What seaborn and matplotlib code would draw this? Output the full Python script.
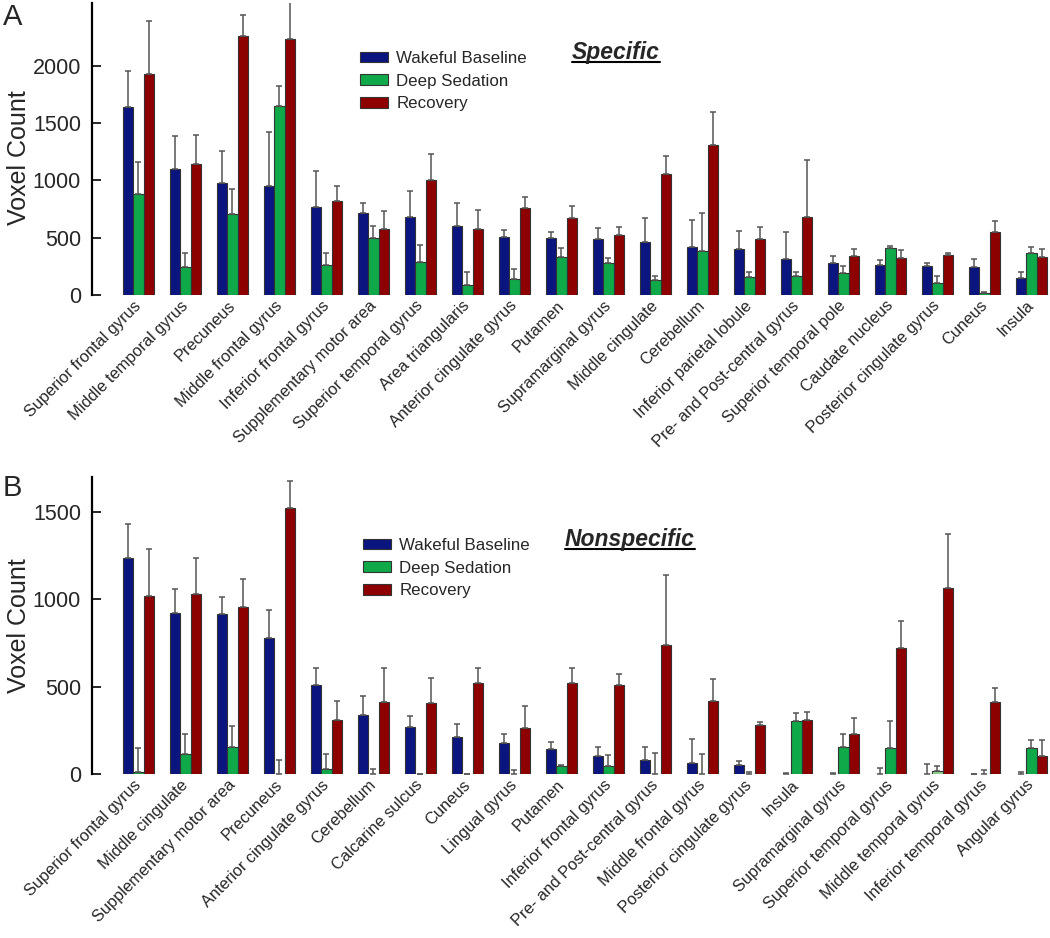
import numpy as np
import pandas as pd
import seaborn as sns
import matplotlib.pyplot as plt
from matplotlib.lines import Line2D
from matplotlib.patches import Patch

conditions = ['Wakeful Baseline', 'Deep Sedation', 'Recovery']
colors = ['#0b1580', '#10a94a', '#8e0000']

# panel A - specific
regions_a = ['Superior frontal gyrus', 'Middle temporal gyrus', 'Precuneus', 'Middle frontal gyrus',
             'Inferior frontal gyrus', 'Supplementary motor area', 'Superior temporal gyrus',
             'Area triangularis', 'Anterior cingulate gyrus', 'Putamen', 'Supramarginal gyrus',
             'Middle cingulate', 'Cerebellum', 'Inferior parietal lobule', 'Pre- and Post-central gyrus',
             'Superior temporal pole', 'Caudate nucleus', 'Posterior cingulate gyrus', 'Cuneus', 'Insula']
wake_a = [1645, 1103, 978, 952, 771, 719, 678, 605, 504, 495, 489, 460, 422, 405, 311, 282, 259, 253, 247, 146]
wake_a_err = [314, 288, 282, 471, 315, 84, 233, 198, 64, 52, 93, 215, 233, 151, 242, 56, 47, 24, 64, 52]
sed_a = [879, 247, 710, 1651, 262, 498, 288, 87, 140, 329, 277, 128, 384, 157, 163, 195, 408, 108, 15, 370]
sed_a_err = [285, 120, 219, 174, 108, 107, 152, 117, 84, 79, 43, 35, 329, 47, 41, 61, 20, 55, 14, 49]
rec_a = [1930, 1141, 2265, 2239, 818, 576, 1004, 576, 763, 670, 521, 1057, 1310, 492, 678, 341, 320, 352, 550, 332]
rec_a_err = [463, 256, 180, 360, 134, 160, 224, 166, 96, 110, 76, 154, 285, 102, 501, 58, 70, 12, 93, 67]

# panel B - nonspecific
regions_b = ['Superior frontal gyrus', 'Middle cingulate', 'Supplementary motor area', 'Precuneus',
             'Anterior cingulate gyrus', 'Cerebellum', 'Calcarine sulcus', 'Cuneus', 'Lingual gyrus',
             'Putamen', 'Inferior frontal gyrus', 'Pre- and Post-central gyrus', 'Middle frontal gyrus',
             'Posterior cingulate gyrus', 'Insula', 'Supramarginal gyrus', 'Superior temporal gyrus',
             'Middle temporal gyrus', 'Inferior temporal gyrus', 'Angular gyrus']
wake_b = [1239, 923, 914, 780, 510, 337, 272, 213, 181, 143, 103, 80, 67, 51, 0, 4, 0, 0, 2, 0]
wake_b_err = [194, 139, 97, 158, 99, 112, 63, 76, 49, 44, 55, 74, 137, 23, 10, 2, 34, 61, 1, 15]
sed_b = [11, 116, 154, 0, 29, 0, 0, 0, 0, 48, 48, 0, 0, 0, 305, 156, 148, 19, 0, 152]
sed_b_err = [137, 112, 124, 80, 89, 32, 0, 0, 23, 7, 62, 122, 116, 13, 43, 76, 158, 29, 27, 44]
rec_b = [1017, 1030, 959, 1521, 310, 413, 407, 523, 263, 523, 508, 740, 419, 284, 312, 232, 723, 1066, 415, 107]
rec_b_err = [274, 204, 155, 154, 107, 196, 145, 86, 129, 82, 67, 398, 127, 15, 42, 92, 155, 310, 80, 87]

sns.set_style('white')
plt.rcParams['font.family'] = ['Liberation Sans', 'DejaVu Sans']

W, H = 1050, 938
fig = plt.figure(figsize=(W / 100, H / 100), dpi=100)


def make_df(regions, vals, errs):
    rows = []
    for cond, v, e in zip(conditions, vals, errs):
        for r, vv, ee in zip(regions, v, e):
            rows.append({'region': r, 'condition': cond, 'value': vv, 'err': ee})
    return pd.DataFrame(rows)


def panel(ax, regions, vals, errs, ymax, yticks):
    df = make_df(regions, vals, errs)
    sns.barplot(data=df, x='region', y='value', hue='condition', order=regions,
                hue_order=conditions, palette=colors, width=0.66, saturation=1,
                edgecolor='#333333', linewidth=0.8, errorbar=None, legend=False, ax=ax)
    for cont, e in zip(ax.containers, errs):
        xs = [p.get_x() + p.get_width() / 2 for p in cont]
        ys = [p.get_height() for p in cont]
        ax.errorbar(xs, ys, yerr=[np.zeros(len(e)), e], fmt='none', ecolor='#555555',
                    elinewidth=1.1, capsize=2.5, capthick=1.1, zorder=1)
    ax.set_xlim(-0.989, 19.394)
    ax.set_ylim(0, ymax)
    ax.set_yticks(yticks)
    ax.set_xlabel('')
    ax.set_ylabel('Voxel Count', fontsize=18)
    for s in ['top', 'right', 'bottom']:
        ax.spines[s].set_visible(False)
    ax.spines['left'].set_linewidth(1.6)
    ax.spines['left'].set_color('black')
    ax.tick_params(axis='y', direction='in', length=6.5, width=1.4, labelsize=15.5, pad=8, left=True)
    ax.tick_params(axis='x', length=0, pad=6)
    ax.set_xticks(range(len(regions)))
    ax.set_xticklabels(regions, rotation=45, ha='right', va='center', rotation_mode='anchor', fontsize=11.8)
    ax.patch.set_alpha(0)


ax_a = fig.add_axes([92 / W, 1 - 295 / H, 958 / W, 292 / H])
panel(ax_a, regions_a, [wake_a, sed_a, rec_a], [wake_a_err, sed_a_err, rec_a_err], 2550, [0, 500, 1000, 1500, 2000])
ax_a.yaxis.set_label_coords(-0.064, 0.47)

ax_b = fig.add_axes([92 / W, 1 - 774.3 / H, 958 / W, 297.3 / H])
panel(ax_b, regions_b, [wake_b, sed_b, rec_b], [wake_b_err, sed_b_err, rec_b_err], 1700, [0, 500, 1000, 1500])
ax_b.yaxis.set_label_coords(-0.064, 0.5)
# the middle temporal gyrus sedation bar is drawn lighter in the source figure
ax_b.containers[1][17].set_facecolor('#8fd68f')

handles = [Patch(facecolor=c, edgecolor='#333333', linewidth=0.8) for c in colors]
for ax, lx, ly in [(ax_a, 360, 51), (ax_b, 363, 538)]:
    ax.legend(handles, conditions, loc='upper left', bbox_to_anchor=(lx / W, 1 - ly / H),
              bbox_transform=fig.transFigure, frameon=False, fontsize=12.2, handlelength=1.65,
              handleheight=0.6, handletextpad=0.5, labelspacing=0.45, borderpad=0, borderaxespad=0)

fig.text(3 / W, 1 - 3 / H, 'A', fontsize=21, va='top', ha='left')
fig.text(3 / W, 1 - 474 / H, 'B', fontsize=21, va='top', ha='left')

titles = [('Specific', 616, 59), ('Nonspecific', 630, 546)]
tobjs = []
for s, cx, by in titles:
    t = fig.text(cx / W, 1 - by / H, s, fontsize=16.5, fontweight='bold', fontstyle='italic',
                 ha='center', va='baseline')
    tobjs.append((t, by))

fig.canvas.draw()
r = fig.canvas.get_renderer()
for t, by in tobjs:
    bb = t.get_window_extent(r)
    uy = 1 - (by + 3) / H
    fig.add_artist(Line2D([bb.x0 / W, bb.x1 / W], [uy, uy], color='black', linewidth=1.5,
                          transform=fig.transFigure))

fig.savefig('out.png', dpi=100)
